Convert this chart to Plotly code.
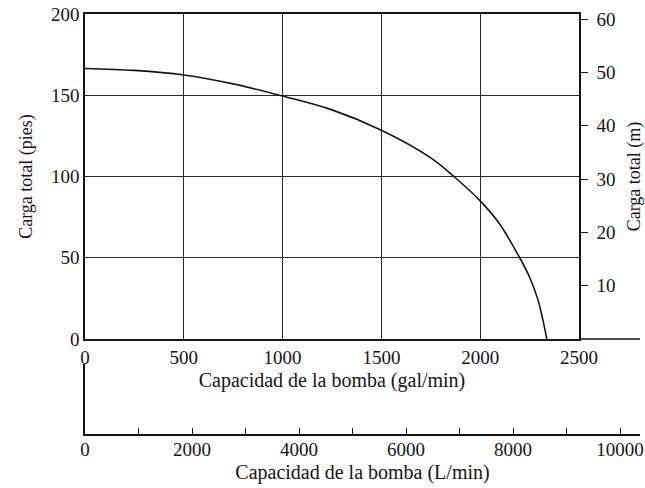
import plotly.graph_objects as go

# ---- data ----
flow_gpm = [0, 250, 500, 750, 1000, 1250, 1500, 1750, 1867, 2000, 2094, 2200, 2250, 2290, 2315, 2337]
head_ft = [166.5, 165.3, 162.5, 157, 149.5, 141, 128.5, 111.5, 100, 85, 71.5, 50, 38, 25, 13, 0]

gal_ticks = [0, 500, 1000, 1500, 2000, 2500]
ft_ticks = [0, 50, 100, 150, 200]
m_ticks = [10, 20, 30, 40, 50, 60]
lpm_ticks = [0, 1000, 2000, 3000, 4000, 5000, 6000, 7000, 8000, 9000, 10000]
lpm_labels = ["0", "", "2000", "", "4000", "", "6000", "", "8000", "", "10000"]

FT_TO_M = 0.3048
FONT = "Liberation Serif, Times New Roman, serif"
INK = "#151515"

W, H = 645, 488
ML, MR, MT, MB = 85, 5, 14, 54
PW = W - ML - MR          # plot-area width
PH = H - MT - MB          # plot-area height
MAIN_W = 494              # width of the gal/min panel
MAIN_BOTTOM = 95          # px above plot-area bottom
LOWER_TOP = 70            # height of the L/min strip
LPM_PX = 0.0535           # px per L/min

fig = go.Figure()
fig.add_trace(go.Scatter(x=flow_gpm, y=head_ft, mode="lines",
                         line=dict(color=INK, width=1.6, shape="spline", smoothing=1.0),
                         hoverinfo="skip", showlegend=False))
fig.add_trace(go.Scatter(x=[], y=[], xaxis="x", yaxis="y2", showlegend=False, hoverinfo="skip"))
fig.add_trace(go.Scatter(x=[], y=[], xaxis="x2", yaxis="y3", showlegend=False, hoverinfo="skip"))

tickfont = dict(family=FONT, size=19, color=INK)

fig.update_layout(
    width=W, height=H, autosize=False,
    margin=dict(l=ML, r=MR, t=MT, b=MB),
    paper_bgcolor="white", plot_bgcolor="white",
    font=dict(family=FONT, color=INK),
    xaxis=dict(domain=[0, MAIN_W / PW], range=[0, 2500], anchor="y", automargin=False,
               tickvals=gal_ticks, ticks="", tickfont=tickfont,
               showgrid=True, gridcolor="#2a2a2a", gridwidth=1.1,
               showline=True, linecolor=INK, linewidth=1.6, mirror=True,
               zeroline=False,
               title=dict(text="Capacidad de la bomba (gal/min)",
                          font=dict(family=FONT, size=20, color=INK), standoff=6)),
    yaxis=dict(domain=[MAIN_BOTTOM / PH, 1], range=[0, 200], anchor="x", automargin=False,
               tickvals=ft_ticks, ticks="", tickfont=tickfont,
               showgrid=True, gridcolor="#2a2a2a", gridwidth=1.1,
               showline=True, linecolor=INK, linewidth=1.6,
               zeroline=False,
               title=dict(text="Carga total (pies)",
                          font=dict(family=FONT, size=18, color=INK), standoff=14)),
    yaxis2=dict(overlaying="y", side="right", anchor="x", automargin=False,
                range=[0, 200 * FT_TO_M], tickvals=m_ticks,
                ticks="outside", ticklen=7, tickwidth=1.4, tickcolor=INK,
                ticklabelstandoff=5,
                tickfont=tickfont, showgrid=False, zeroline=False,
                showline=True, linecolor=INK, linewidth=1.6,
                title=dict(text="Carga total (m)",
                           font=dict(family=FONT, size=18, color=INK), standoff=16)),
    xaxis2=dict(domain=[0, 1], anchor="y3", range=[0, PW / LPM_PX], automargin=False,
                tickvals=lpm_ticks, ticktext=lpm_labels,
                ticks="inside", ticklen=6, tickwidth=1.4, tickcolor=INK,
                ticklabelstandoff=-3,
                tickfont=tickfont, showgrid=False, zeroline=False,
                showline=True, linecolor=INK, linewidth=1.6,
                title=dict(text="Capacidad de la bomba (L/min)",
                           font=dict(family=FONT, size=20, color=INK), standoff=6)),
    yaxis3=dict(domain=[0, LOWER_TOP / PH], anchor="x2", range=[0, 1], automargin=False,
                showticklabels=False, ticks="", showgrid=False, zeroline=False,
                showline=True, linecolor=INK, linewidth=1.6),
    shapes=[dict(type="line", xref="x domain", yref="y domain",
                 x0=1, x1=PW / MAIN_W, y0=0, y1=0,
                 line=dict(color=INK, width=1.6))],
)

# remove the page's default body margin so the 645x488 figure fills the window exactly
post = ("document.body.style.margin='0';document.body.style.overflow='hidden';"
        "var gd=document.getElementById('{plot_id}');"
        "Plotly.relayout(gd,{width:645,height:488});")

fig.write_html("out.html", post_script=post, config={"displayModeBar": False})
